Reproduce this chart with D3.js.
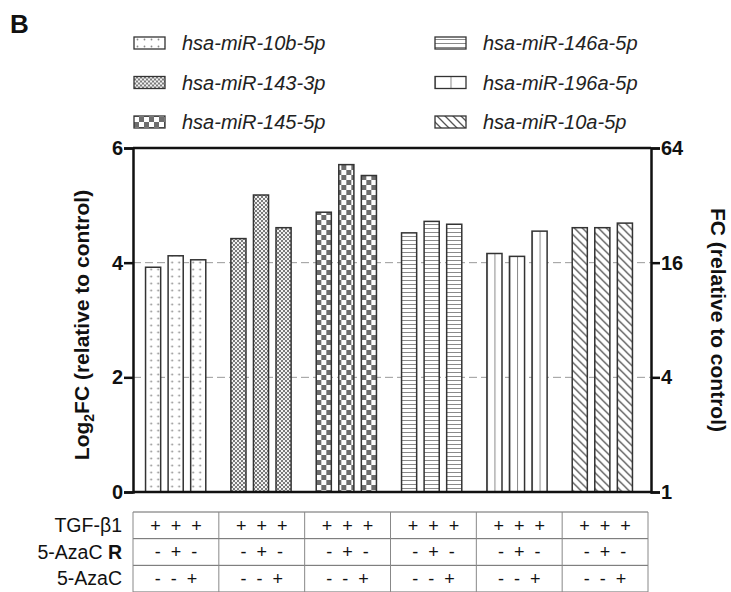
<!DOCTYPE html>
<html>
<head>
<meta charset="utf-8">
<script src="https://cdn.jsdelivr.net/npm/d3@7"></script>
<style>
  body { margin: 0; background: #fff; }
  svg { font-family: "Liberation Sans", Arial, sans-serif; }
</style>
</head>
<body>
<svg id="chart" width="731" height="592"></svg>
<script>
"use strict";

// microRNAs, one group of three bars each
var mirnas = ['hsa-miR-10b-5p', 'hsa-miR-143-3p', 'hsa-miR-145-5p',
	'hsa-miR-146a-5p', 'hsa-miR-196a-5p', 'hsa-miR-10a-5p'];
var patternIds = ['dots', 'fineCheck', 'bigCheck', 'hLines', 'vLines', 'diag'];
var conditions = ['TGF', 'TGF+AzaR', 'TGF+Aza'];
// log2 fold change
var log2fc = [
	[3.92, 4.12, 4.05],
	[4.42, 5.18, 4.61],
	[4.88, 5.71, 5.52],
	[4.52, 4.72, 4.67],
	[4.16, 4.11, 4.55],
	[4.61, 4.61, 4.69]
];
var leftTicks = [0, 2, 4, 6];
var rightTicks = [1, 4, 16, 64];
var gridTicks = [2, 4];
var tableRows = ['TGF-β1', '5-AzaC R', '5-AzaC'];
var tableSigns = [['+', '+', '+'], ['-', '+', '-'], ['-', '-', '+']];

var svg = d3.select('#chart');
var margin = { top: 148, left: 133 };
var plotR = 651, plotB = 492;

// ---- patterns
var defs = svg.append('defs');
function pat(id, w, h) {
	return defs.append('pattern').attr('id', id)
		.attr('patternUnits', 'userSpaceOnUse')
		.attr('width', w).attr('height', h);
}
var p = pat('dots', 7, 7);
p.append('rect').attr('width', 7).attr('height', 7).attr('fill', '#fff');
p.append('circle').attr('cx', 3.5).attr('cy', 3.5).attr('r', 0.9).attr('fill', '#8a8a8a');

p = pat('fineCheck', 4, 4);
p.append('rect').attr('width', 4).attr('height', 4).attr('fill', '#f2f2f2');
p.append('rect').attr('width', 2).attr('height', 2).attr('fill', '#7a7a7a');
p.append('rect').attr('x', 2).attr('y', 2).attr('width', 2).attr('height', 2).attr('fill', '#7a7a7a');

p = pat('bigCheck', 10, 10);
p.append('rect').attr('width', 10).attr('height', 10).attr('fill', '#fff');
p.append('rect').attr('width', 5).attr('height', 5).attr('fill', '#6e6e6e');
p.append('rect').attr('x', 5).attr('y', 5).attr('width', 5).attr('height', 5).attr('fill', '#6e6e6e');

p = pat('hLines', 4, 4);
p.append('rect').attr('width', 4).attr('height', 4).attr('fill', '#fff');
p.append('rect').attr('y', 0).attr('width', 4).attr('height', 1).attr('fill', '#8a8a8a');

// vertical lines: one in the middle of every bar
p = defs.append('pattern').attr('id', 'vLines')
	.attr('patternUnits', 'objectBoundingBox')
	.attr('width', 0.5).attr('height', 1);
p.append('rect').attr('width', 40).attr('height', 600).attr('fill', '#fff');
p.append('rect').attr('x', 0).attr('width', 1).attr('height', 600).attr('fill', '#8a8a8a');

p = pat('diag', 8, 8);
p.append('rect').attr('width', 8).attr('height', 8).attr('fill', '#fff');
p.append('path').attr('d', 'M0,0L8,8M-2,6L2,10M6,-2L10,2')
	.attr('stroke', '#555').attr('stroke-width', 1.3);

// ---- scales
var y = d3.scaleLinear().domain([0, 6]).range([plotB, margin.top]);
var yFC = d3.scaleLog().base(2).domain([1, 64]).range([plotB, margin.top]);
var x0 = d3.scaleBand().domain(mirnas).range([133, 645]);
var x1 = d3.scaleBand().domain(conditions).range([-33.5, 33.5])
	.paddingInner(0.33).paddingOuter(0.15);

// ---- grid lines
svg.append('g').selectAll('line').data(gridTicks).enter().append('line')
	.attr('x1', margin.left).attr('x2', plotR)
	.attr('y1', d => y(d)).attr('y2', d => y(d))
	.attr('stroke', '#999').attr('stroke-width', 1)
	.attr('stroke-dasharray', '8,4');

// ---- bars
var groupsG = svg.append('g').selectAll('g').data(mirnas).enter().append('g')
	.attr('transform', d => 'translate(' + (x0(d) + x0.bandwidth() / 2) + ',0)');
groupsG.selectAll('rect')
	.data((d, i) => log2fc[i].map(v => ({ v: v, g: i })))
	.enter().append('rect')
	.attr('x', (d, j) => x1(conditions[j]))
	.attr('width', x1.bandwidth())
	.attr('y', d => y(d.v))
	.attr('height', d => plotB - y(d.v))
	.attr('fill', d => 'url(#' + patternIds[d.g] + ')')
	.attr('stroke', '#333').attr('stroke-width', 1.5);

// ---- frame and axes
svg.append('line').attr('x1', margin.left).attr('x2', plotR)
	.attr('y1', margin.top).attr('y2', margin.top)
	.attr('stroke', '#111').attr('stroke-width', 2.5);
svg.append('line').attr('x1', margin.left).attr('x2', plotR)
	.attr('y1', plotB).attr('y2', plotB)
	.attr('stroke', '#111').attr('stroke-width', 2.5);

var yAxisL = svg.append('g').attr('transform', 'translate(' + margin.left + ',0)')
	.call(d3.axisLeft(y).tickValues(leftTicks).tickSize(9).tickPadding(1)
		.tickFormat(d3.format('d')));
var yAxisR = svg.append('g').attr('transform', 'translate(' + plotR + ',0)')
	.call(d3.axisRight(yFC).tickValues(rightTicks).tickSize(9).tickPadding(1)
		.tickFormat(d3.format('d')));
[yAxisL, yAxisR].forEach(function(a) {
	a.select('.domain').attr('stroke', '#111').attr('stroke-width', 2.5);
	a.selectAll('.tick line').attr('stroke', '#111').attr('stroke-width', 2.5);
	a.selectAll('.tick text').attr('font-size', 20).attr('font-weight', 'bold')
		.attr('font-family', '"Liberation Sans", Arial, sans-serif').attr('fill', '#111');
});

// axis titles
var lt = svg.append('text')
	.attr('transform', 'translate(89,325) rotate(-90)')
	.attr('text-anchor', 'middle').attr('font-size', 21).attr('font-weight', 'bold')
	.attr('fill', '#111');
lt.append('tspan').text('Log');
lt.append('tspan').attr('font-size', 14).attr('dy', 5).text('2');
lt.append('tspan').attr('dy', -5).text('FC (relative to control)');

svg.append('text')
	.attr('transform', 'translate(711,320) rotate(90)')
	.attr('text-anchor', 'middle').attr('font-size', 21).attr('font-weight', 'bold')
	.attr('fill', '#111')
	.text('FC (relative to control)');

// panel letter
svg.append('text').attr('x', 10).attr('y', 33)
	.attr('font-size', 26).attr('font-weight', 'bold').attr('fill', '#111').text('B');

// ---- legend
var legend = svg.append('g').selectAll('g').data(mirnas).enter().append('g')
	.attr('transform', (d, i) => 'translate(' + (i < 3 ? 134 : 435) + ',' + (43 + (i % 3) * 39.5) + ')');
legend.append('rect')
	.attr('x', 0).attr('y', -6).attr('width', 31).attr('height', 12)
	.attr('fill', (d, i) => 'url(#' + patternIds[i] + ')')
	.attr('stroke', '#333').attr('stroke-width', 1.3);
legend.append('text')
	.attr('x', 48).attr('dy', '0.35em')
	.attr('font-size', 20).attr('font-style', 'italic').attr('fill', '#222')
	.text(d => d);

// ---- treatment table
var rowY = d3.scaleBand().domain(tableRows).range([512, 592]);
var colX = d3.scaleBand().domain(mirnas).range([133, 648]);
var table = svg.append('g');
table.append('g').selectAll('line').data(d3.range(tableRows.length + 1)).enter().append('line')
	.attr('x1', 133).attr('x2', 648)
	.attr('y1', i => 512 + i * rowY.step()).attr('y2', i => 512 + i * rowY.step())
	.attr('stroke', '#666').attr('stroke-width', 1);
table.append('g').selectAll('line').data(d3.range(mirnas.length + 1)).enter().append('line')
	.attr('x1', i => 133 + i * colX.step()).attr('x2', i => 133 + i * colX.step())
	.attr('y1', 512).attr('y2', 592)
	.attr('stroke', '#888').attr('stroke-width', 1);

tableRows.forEach(function(r, ri) {
	var cy = rowY(r) + rowY.bandwidth() / 2;
	var lbl = table.append('text').attr('x', 122).attr('y', cy).attr('dy', '0.35em')
		.attr('text-anchor', 'end').attr('font-size', 19.5).attr('fill', '#111');
	if (r === '5-AzaC R') {
		lbl.append('tspan').text('5-AzaC ');
		lbl.append('tspan').attr('font-weight', 'bold').text('R');
	} else {
		lbl.text(r);
	}
	mirnas.forEach(function(m) {
		table.append('text')
			.attr('x', colX(m) + colX.bandwidth() / 2).attr('y', cy).attr('dy', '0.35em')
			.attr('text-anchor', 'middle').attr('font-size', 18).attr('fill', '#111')
			.attr('xml:space', 'preserve')
			.text(tableSigns[ri].join('  '));
	});
});
</script>
</body>
</html>
